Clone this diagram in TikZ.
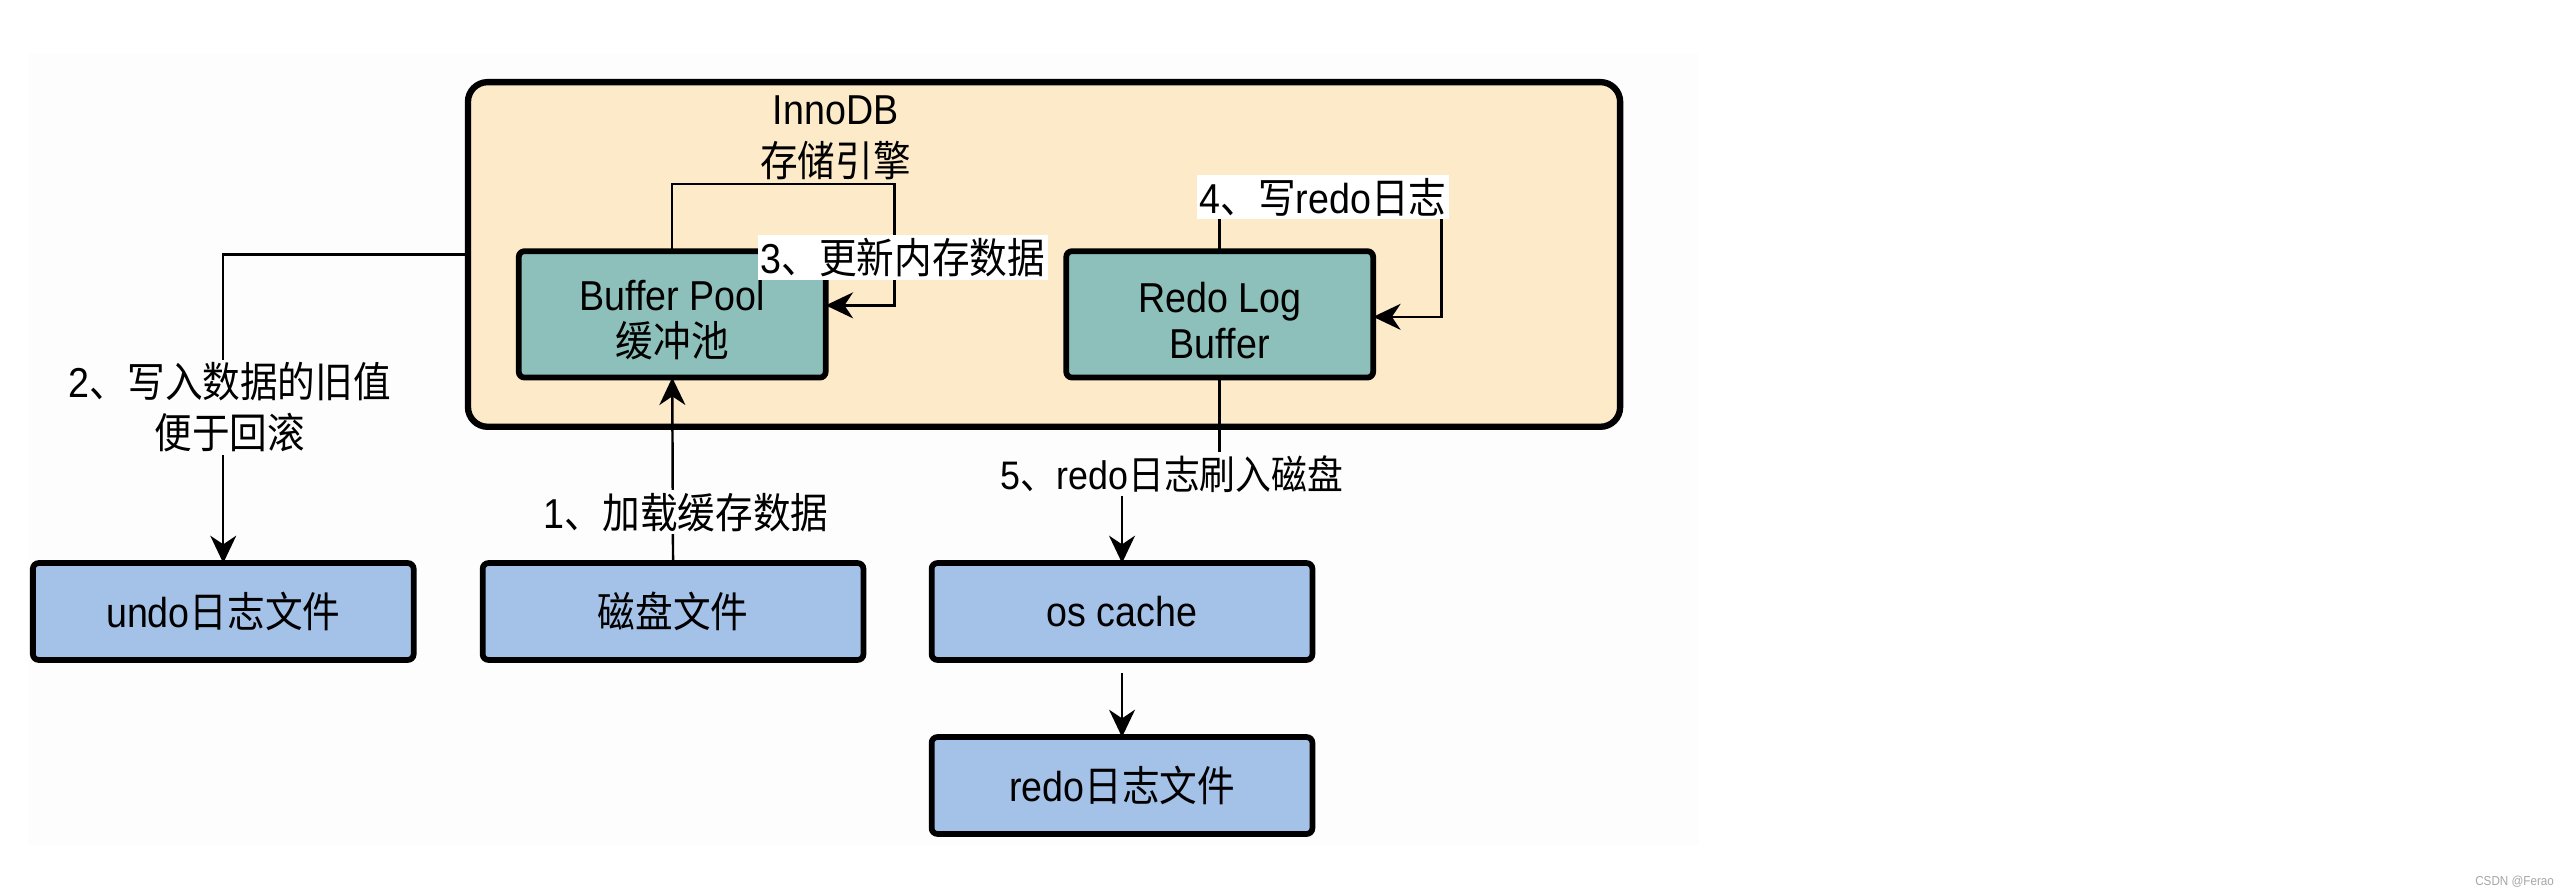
\documentclass[tikz,border=0pt]{standalone}
\usepackage{fontspec}
\setmainfont{Liberation Sans}[FakeStretch=0.9]
\newfontfamily\cjk{Noto Sans CJK SC}[FakeStretch=0.9]
\usetikzlibrary{arrows.meta}
\definecolor{peach}{HTML}{FCEAC9}
\definecolor{tealbox}{HTML}{8DC0BA}
\definecolor{bluebox}{HTML}{A4C2E8}
\definecolor{bgpale}{HTML}{FDFDFD}
\tikzset{
  container/.style={draw=black, line width=2.2pt, fill=peach, rounded corners=0.24cm, minimum width=14.04cm, minimum height=4.2cm, outer sep=0pt},
  tbox/.style={draw=black, line width=2pt, fill=tealbox, rounded corners=2pt, minimum width=3.74cm, minimum height=1.54cm, outer sep=0pt},
  ttext/.style={align=center, yshift=-2pt, font=\fontsize{14.5}{16}\selectfont},
  bbox/.style={draw=black, line width=2pt, fill=bluebox, rounded corners=2pt, minimum width=4.64cm, minimum height=1.18cm, align=center, outer sep=0pt, font=\fontsize{14.5}{17.5}\selectfont},
  lbl/.style={fill=white, inner sep=1pt, align=center, font=\fontsize{14.5}{17.5}\selectfont},
  conn/.style={line width=0.85pt, draw=black},
  arr/.style={conn, -{Stealth[length=9.5pt, width=9pt, inset=3pt]}},
}
\begin{document}
\begin{tikzpicture}[x=0.02cm, y=-0.02cm]
\useasboundingbox (0,0) rectangle (1568,545);
\fill[bgpale] (17,33) rectangle (1035,515);
% container
\node[container] (inno) at (636,155) {};
\node[font=\fontsize{14.5}{18}\selectfont, align=center] (innot) at (509,84) {InnoDB\\{\cjk 存储引擎}};
% boxes
\node[tbox, label={[ttext]center:Buffer Pool\\{\cjk 缓冲池}}] (bp) at (409.5,191.5) {};
\node[tbox, label={[ttext]center:Redo Log\\Buffer}] (rlb) at (743,191.5) {};
\node[bbox] (undo) at (136,372.5) {undo{\cjk 日志文件}};
\node[bbox] (disk) at (410,372.5) {{\cjk 磁盘文件}};
\node[bbox] (os) at (683.5,372.5) {os cache};
\node[bbox] (rf) at (683.5,478.5) {redo{\cjk 日志文件}};
% coordinates
\coordinate (l3a) at (409.5,112);
\coordinate (l3b) at (545,112);
\coordinate (l3c) at (545,186);
\coordinate (l4a) at (743,120);
\coordinate (l4b) at (878,120);
\coordinate (l4c) at (878,193);
\coordinate (u1) at (136,155);
% connectors
\draw[arr] (bp.north) -- (l3a) -- (l3b) -- (l3c) -- (bp.east |- l3c);
\draw[arr] (rlb.north) -- (l4a) -- (l4b) -- (l4c) -- (rlb.east |- l4c);
\draw[arr] (inno.west |- u1) -- (u1) -- (undo.north);
\draw[arr] (disk.north) -- (bp.south);
% labels
\node[lbl] (lb3) at (550,157) {3{\cjk 、更新内存数据}};
\node[lbl] (lb4) at (806,120) {4{\cjk 、写}redo{\cjk 日志}};
\node[lbl, fill=bgpale] (lb2) at (140,248) {2{\cjk 、写入数据的旧值}\\{\cjk 便于回滚}};
\node[lbl, fill=bgpale] (lb1) at (418,312) {1{\cjk 、加载缓存数据}};
\node[lbl, fill=bgpale, font=\fontsize{13.8}{16.5}\selectfont] (lb5) at (714,289) {5{\cjk 、}redo{\cjk 日志刷入磁盘}};
\draw[conn] (rlb.south) -- (rlb.south |- lb5.north);
\draw[arr] (lb5.south -| os.north) -- (os.north);
\draw[arr, shorten <=0.16cm] (os.south) -- (rf.north);
% watermark
\node[text=gray!70, font=\fontsize{4.5}{5}\selectfont, anchor=east] (wm) at (1562,537) {CSDN @Ferao};
\end{tikzpicture}
\end{document}
